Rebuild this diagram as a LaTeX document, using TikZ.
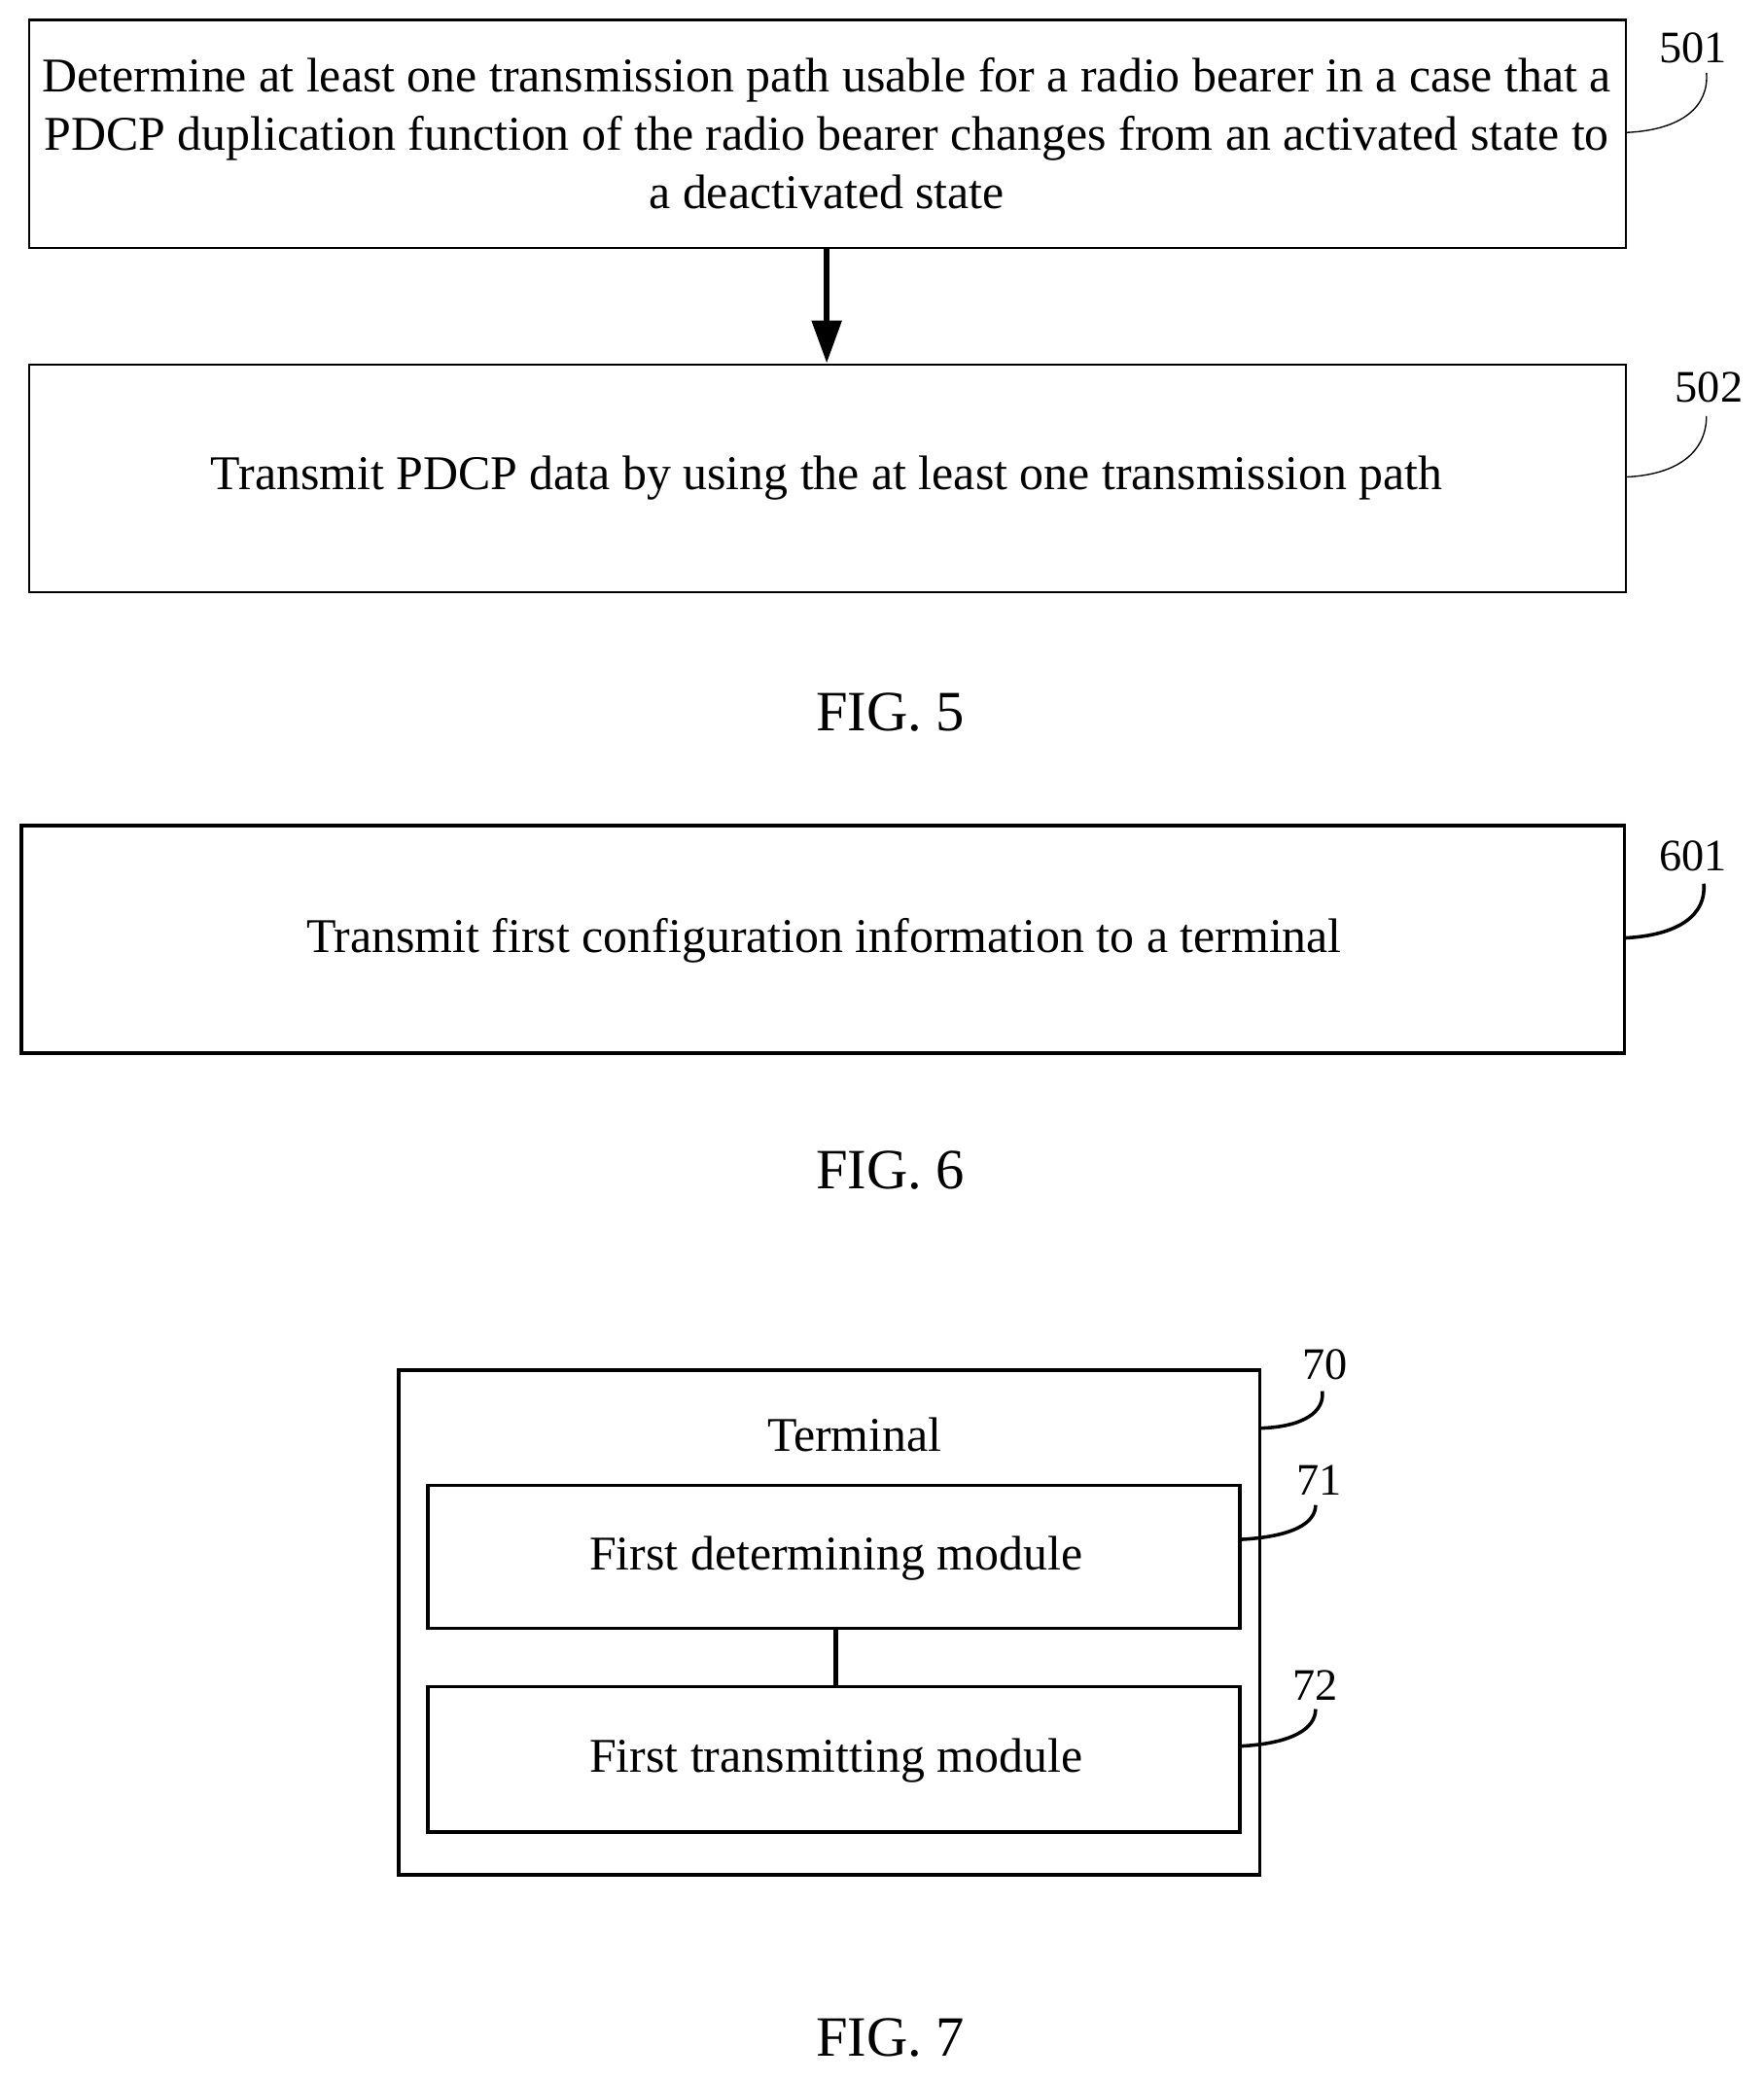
\documentclass[tikz,border=0pt]{standalone}
\usepackage{fontspec}
\setmainfont{Liberation Serif}
\usetikzlibrary{arrows.meta}
\begin{document}
\begin{tikzpicture}[x=0.5pt,y=-0.5pt,
  box/.style={draw,line width=0.8pt,inner sep=0pt},
  tbox/.style={draw,line width=1.3pt,inner sep=0pt},
  txt/.style={font=\fontsize{18.3}{22}\selectfont,align=center},
  lab/.style={font=\fontsize{17}{18}\selectfont},
  fig/.style={font=\fontsize{21.5}{24}\selectfont}]
\useasboundingbox (0,0) rectangle (1331,1570);
% FIG 5
\draw[box] (22,15) rectangle (1227,187);
\node[txt] (t501) at (624,101) {Determine at least one transmission path usable for a radio bearer in a case that a\\PDCP duplication function of the radio bearer changes from an activated state to\\a deactivated state};
\draw[box] (22,275) rectangle (1227,447);
\node[txt] (t502) at (624,361) {Transmit PDCP data by using the at least one transmission path};
\coordinate (a1) at (624,187); \coordinate (a2) at (624,274);
\draw[line width=2pt,-{Triangle[length=16pt,width=11pt]}] (a1) -- (a2);
\node[lab] (l501) at (1278,36) {501};
\node[lab] (l502) at (1290,292) {502};
\draw[line width=0.5pt] (1228,100) .. controls (1270,98) and (1290,80) .. (1288,55);
\draw[line width=0.5pt] (1228,360) .. controls (1268,358) and (1288,340) .. (1288,314);
\node[fig] (f5) at (672,538) {FIG. 5};
% FIG 6
\draw[tbox] (16,623) rectangle (1226,795);
\node[txt] (t601) at (622,710) {Transmit first configuration information to a terminal};
\node[lab] (l601) at (1278,646) {601};
\draw[line width=1.3pt] (1226,708) .. controls (1268,706) and (1288,690) .. (1286,667);
\node[fig] (f6) at (672,883) {FIG. 6};
% FIG 7
\draw[tbox] (301,1034) rectangle (951,1415);
\node[txt] (term) at (645,1083) {Terminal};
\draw[tbox] (323,1121) rectangle (936,1229);
\node[txt] (m71) at (631,1176) {First determining module};
\draw[tbox] (323,1273) rectangle (936,1383);
\node[txt] (m72) at (631,1329) {First transmitting module};
\coordinate (c1) at (631,1229); \coordinate (c2) at (631,1273);
\draw[line width=1.8pt] (c1) -- (c2);
\node[lab] (l70) at (1000,1030) {70};
\node[lab] (l71) at (996,1117) {71};
\node[lab] (l72) at (993,1272) {72};
\draw[line width=1.3pt] (951,1078) .. controls (985,1077) and (1000,1065) .. (998,1050);
\draw[line width=1.3pt] (936,1162) .. controls (975,1160) and (993,1150) .. (993,1136);
\draw[line width=1.3pt] (936,1318) .. controls (975,1316) and (993,1305) .. (993,1290);
\node[fig] (f7) at (672,1538) {FIG. 7};
\end{tikzpicture}
\end{document}
